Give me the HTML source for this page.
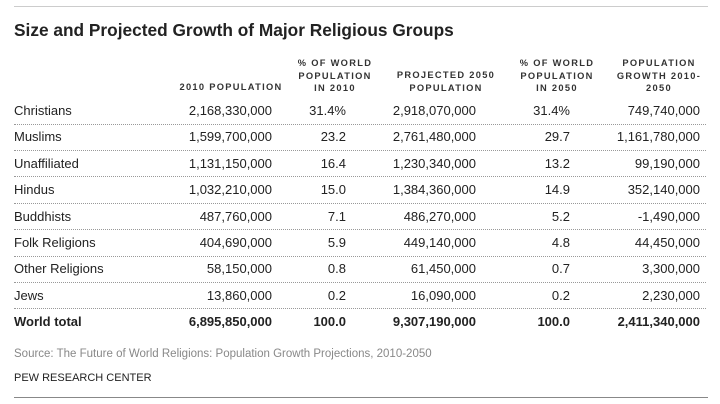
<!DOCTYPE html>
<html><head><style>
body{margin:0;width:720px;height:404px;background:#fff;position:relative;font-family:"Liberation Sans",Arial,sans-serif;color:#222;overflow:hidden}
.a{position:absolute;white-space:nowrap}
.hr{position:absolute;left:14px;width:694px;height:0}
.h{position:absolute;font-size:9.3px;font-weight:bold;letter-spacing:1.3px;line-height:12.5px;text-align:center;color:#333}
.r{position:absolute;font-size:13px;text-align:right;white-space:nowrap}
.l{position:absolute;left:14px;font-size:13px;white-space:nowrap}
.dot{position:absolute;left:14px;width:692px;border-top:1px dotted #999}
</style></head><body>
<div class="hr" style="top:6px;border-top:1px solid #ccc"></div>
<div class="a" style="left:14px;top:20px;font-size:17.3px;font-weight:bold;color:#222">Size and Projected Growth of Major Religious Groups</div>
<div class="h" style="left:170px;width:122px;top:81px">2010 POPULATION</div>
<div class="h" style="left:290px;width:90px;top:57px">% OF WORLD<br>POPULATION<br>IN 2010</div>
<div class="h" style="left:390px;width:112px;top:69px">PROJECTED 2050<br>POPULATION</div>
<div class="h" style="left:512px;width:90px;top:57px">% OF WORLD<br>POPULATION<br>IN 2050</div>
<div class="h" style="left:610px;width:98px;top:57px">POPULATION<br>GROWTH 2010-<br>2050</div>
<div id="rows"></div>
<script>
var d=[["Christians","2,168,330,000","31.4%","2,918,070,000","31.4%","749,740,000"],
["Muslims","1,599,700,000","23.2","2,761,480,000","29.7","1,161,780,000"],
["Unaffiliated","1,131,150,000","16.4","1,230,340,000","13.2","99,190,000"],
["Hindus","1,032,210,000","15.0","1,384,360,000","14.9","352,140,000"],
["Buddhists","487,760,000","7.1","486,270,000","5.2","-1,490,000"],
["Folk Religions","404,690,000","5.9","449,140,000","4.8","44,450,000"],
["Other Religions","58,150,000","0.8","61,450,000","0.7","3,300,000"],
["Jews","13,860,000","0.2","16,090,000","0.2","2,230,000"],
["World total","6,895,850,000","100.0","9,307,190,000","100.0","2,411,340,000"]];
var R=[272,346,476,570,700],h="";
d.forEach(function(r,i){var y=103+i*26.4,b=i==8?"font-weight:bold;":"";
h+='<div class="l" style="top:'+y+'px;'+b+'">'+r[0]+'</div>';
for(var j=1;j<6;j++)h+='<div class="r" style="top:'+y+'px;right:'+(720-R[j-1])+'px;'+b+'">'+r[j]+'</div>';
if(i<8)h+='<div class="dot" style="top:'+(y+20.5)+'px"></div>';});
document.getElementById("rows").innerHTML=h;
</script>
<div class="a" style="left:14px;top:348px;font-size:11.5px;color:#888">Source: The Future of World Religions: Population Growth Projections, 2010-2050</div>
<div class="a" style="left:14px;top:372px;font-size:11px;color:#222">PEW RESEARCH CENTER</div>
<div class="hr" style="top:397px;border-top:1px solid #888"></div>
</body></html>
